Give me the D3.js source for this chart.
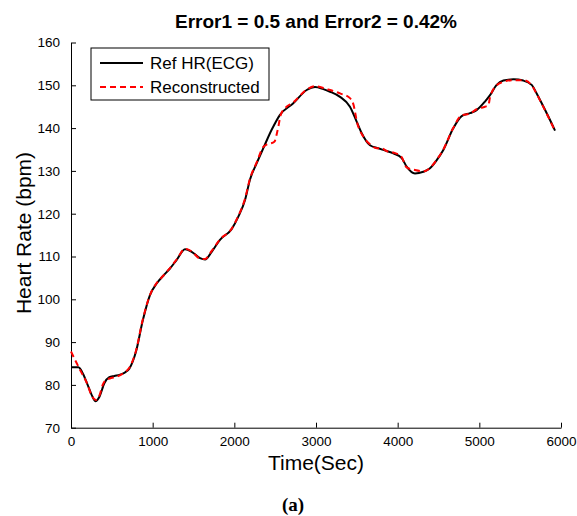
<!DOCTYPE html>
<html>
<head>
<meta charset="utf-8">
<script src="https://cdn.jsdelivr.net/npm/d3@7"></script>
<style>
  body { margin: 0; background: #fff; }
  #chart text { font-family: Arial, 'Liberation Sans', sans-serif; }
</style>
</head>
<body>
<div id="chart"></div>
<script>
const margin = { top: 42.5, right: 16, bottom: 88.3, left: 71 };
const WIDTH = 577 - margin.left - margin.right;
const HEIGHT = 516 - margin.top - margin.bottom;

// data
const refTime = [0, 90, 150, 200, 250, 298, 350, 408, 469, 530, 600, 653, 714, 796, 878, 967, 1049, 1130, 1212, 1294, 1396, 1478, 1580, 1641, 1723, 1824, 1967, 2049, 2131, 2192, 2274, 2355, 2457, 2559, 2722, 2886, 2988, 3090, 3172, 3294, 3416, 3498, 3560, 3661, 3763, 3824, 3947, 4049, 4110, 4212, 4314, 4396, 4478, 4559, 4682, 4784, 4886, 4967, 5069, 5131, 5212, 5294, 5417, 5539, 5641, 5702, 5764, 5845, 5927];
const refHR = [84.1, 84.1, 82.5, 80.2, 77.8, 76.2, 77.3, 80.4, 81.8, 82.1, 82.4, 82.8, 83.8, 87.8, 95, 101, 103.7, 105.5, 107.2, 109.2, 111.7, 111.1, 109.6, 109.3, 111.1, 113.9, 116.4, 119.3, 123.2, 128, 131.8, 135.3, 139.6, 143.1, 145.8, 148.9, 149.6, 149.1, 148.5, 147.3, 145, 141.5, 138.8, 136, 135.3, 134.9, 134.1, 133, 131, 129.4, 129.8, 130.6, 132.5, 134.9, 140, 142.8, 143.5, 144.2, 146.2, 147.7, 150.1, 151.1, 151.4, 151.1, 150.1, 148.1, 145.8, 142.7, 139.4];

const recTime = [0, 61, 122, 200, 250, 306, 350, 388, 420, 490, 560, 653, 714, 796, 878, 967, 1049, 1130, 1212, 1294, 1396, 1478, 1580, 1641, 1723, 1824, 1967, 2049, 2131, 2192, 2274, 2355, 2400, 2437, 2490, 2530, 2570, 2620, 2722, 2886, 2988, 3131, 3294, 3416, 3457, 3506, 3580, 3661, 3743, 3800, 3870, 3947, 4049, 4110, 4212, 4314, 4396, 4478, 4559, 4682, 4784, 4886, 4967, 5069, 5110, 5131, 5212, 5294, 5417, 5539, 5641, 5702, 5764, 5845, 5927];
const recHR = [87.8, 85.4, 83.1, 80.2, 77.6, 76.5, 77.6, 80, 81, 81.6, 81.9, 82.9, 84, 88, 95.2, 101, 103.8, 105.5, 107.3, 109.3, 111.8, 111.2, 109.5, 109.4, 111.3, 114, 116.5, 119.5, 123.5, 128.2, 132, 135.6, 136.2, 136.4, 136.8, 139.5, 143.2, 144.6, 146, 149, 149.8, 149.1, 148.1, 147, 145.6, 141.1, 138, 136.2, 135.3, 135.3, 134.6, 134.3, 133.2, 130.8, 130.2, 129.9, 130.7, 132.6, 135, 140.1, 143, 143.4, 144.4, 145, 145.3, 147.2, 150, 150.8, 151.2, 151.2, 150, 148, 145.7, 142.6, 139.3];

const xTicks = [0, 1000, 2000, 3000, 4000, 5000, 6000];
const yTicks = [70, 80, 90, 100, 110, 120, 130, 140, 150, 160];
const seriesNames = ['Ref HR(ECG)', 'Reconstructed'];

const svg = d3
  .select('#chart')
  .append('svg')
  .attr('width', 577)
  .attr('height', 516);

const plot = svg
  .append('g')
  .attr('transform', `translate(${margin.left}, ${margin.top})`);

const xScale = d3.scaleLinear().domain([0, 6000]).range([0, WIDTH]);
const yScale = d3.scaleLinear().domain([70, 160]).range([HEIGHT, 0]);

// axes, ticks pointing inward like matlab
const xAxis = d3.axisBottom(xScale).tickValues(xTicks).tickSizeInner(-5).tickSizeOuter(0).tickPadding(9).tickFormat(d3.format('d'));
const yAxis = d3.axisLeft(yScale).tickValues(yTicks).tickSizeInner(-5).tickSizeOuter(0).tickPadding(11);

plot
  .append('g')
  .attr('transform', `translate(0,${HEIGHT})`)
  .call(xAxis)
  .call(g => g.selectAll('text').style('font-size', '13.5px').attr('fill', '#000'));

plot
  .append('g')
  .call(yAxis)
  .call(g => g.selectAll('text').style('font-size', '13.5px').attr('fill', '#000'));

plot.selectAll('.domain, .tick line').attr('stroke', '#000').attr('stroke-width', 1);

const line = d3
  .line()
  .x(d => xScale(d[0]))
  .y(d => yScale(d[1]))
  .curve(d3.curveMonotoneX);

plot
  .append('path')
  .datum(refTime.map((t, i) => [t, refHR[i]]))
  .attr('fill', 'none')
  .attr('stroke', '#000')
  .attr('stroke-width', 2)
  .attr('d', line);

plot
  .append('path')
  .datum(recTime.map((t, i) => [t, recHR[i]]))
  .attr('fill', 'none')
  .attr('stroke', '#ff0000')
  .attr('stroke-width', 2)
  .attr('stroke-dasharray', '6,4')
  .attr('d', line);

// legend
const legend = svg.append('g').attr('transform', 'translate(91,48)');
legend
  .append('rect')
  .attr('width', 178)
  .attr('height', 52)
  .attr('fill', '#fff')
  .attr('stroke', '#000')
  .attr('stroke-width', 1);
seriesNames.forEach((name, i) => {
  const y = 15 + i * 24;
  legend
    .append('line')
    .attr('x1', 9)
    .attr('x2', 52)
    .attr('y1', y)
    .attr('y2', y)
    .attr('stroke', i === 0 ? '#000' : '#ff0000')
    .attr('stroke-width', 2)
    .attr('stroke-dasharray', i === 0 ? null : '6,4');
  legend
    .append('text')
    .attr('x', 59)
    .attr('y', y + 6)
    .style('font-size', '17px')
    .text(name);
});

// title
svg
  .append('text')
  .attr('x', 316)
  .attr('y', 28)
  .attr('text-anchor', 'middle')
  .style('font-size', '19px')
  .style('font-weight', 'bold')
  .text('Error1 = 0.5 and Error2 = 0.42%');

// label on x axis
svg
  .append('text')
  .attr('x', 316)
  .attr('y', 470)
  .attr('text-anchor', 'middle')
  .style('font-size', '21px')
  .text('Time(Sec)');

// label on y axis
svg
  .append('text')
  .attr('transform', 'translate(31,233) rotate(-90)')
  .attr('text-anchor', 'middle')
  .style('font-size', '21px')
  .text('Heart Rate (bpm)');

// panel tag
svg
  .append('text')
  .attr('x', 293)
  .attr('y', 511)
  .attr('text-anchor', 'middle')
  .style('font-family', "'Liberation Serif', 'DejaVu Serif', serif")
  .style('font-size', '19px')
  .style('font-weight', 'bold')
  .text('(a)');
</script>
</body>
</html>
